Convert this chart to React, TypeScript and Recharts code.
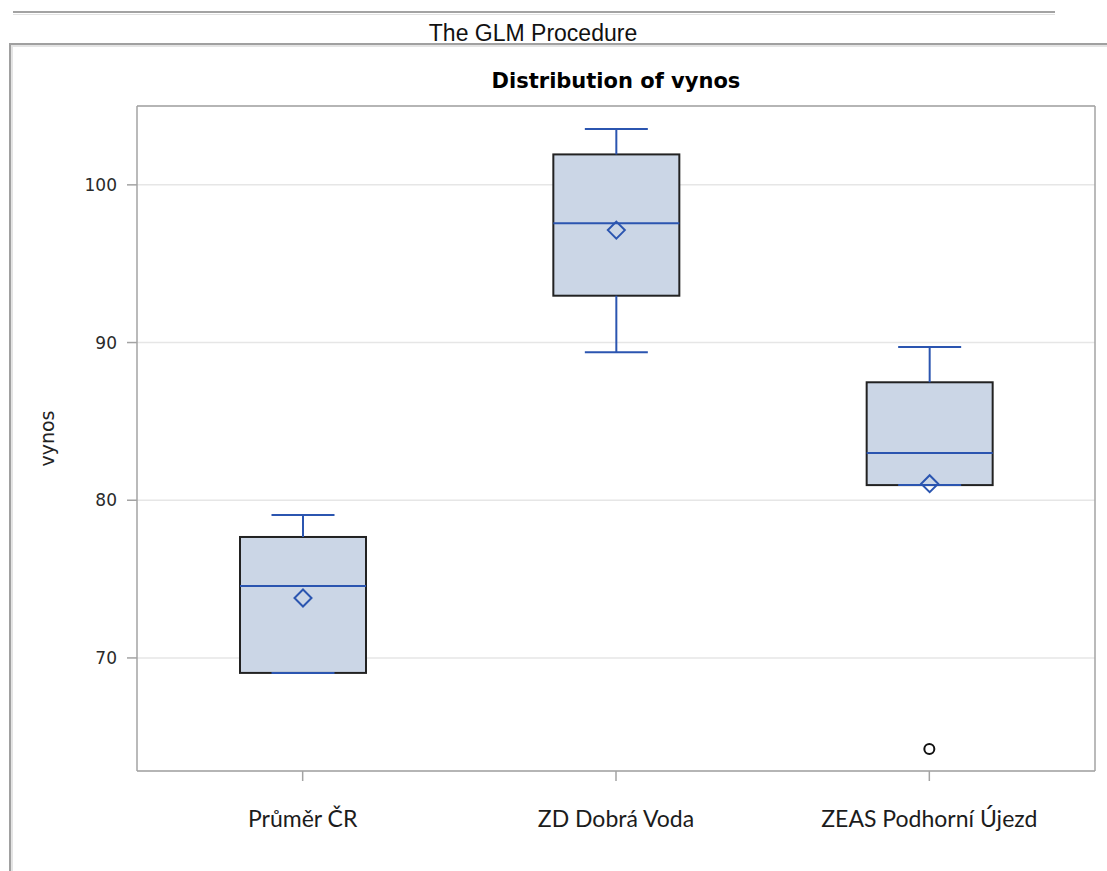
import { Bar, CartesianGrid, ComposedChart, Line, XAxis, YAxis } from 'recharts';

// box plot statistics per group
const groups = ['Průměr ČR', 'ZD Dobrá Voda', 'ZEAS Podhorní Újezd'];
const whiskerLow = [69.05, 89.38, 80.96];
const q1 = [69.05, 92.97, 80.96];
const median = [74.56, 97.56, 82.99];
const q3 = [77.67, 101.93, 87.48];
const whiskerHigh = [79.06, 103.54, 89.71];
const mean = [73.8, 97.13, 81.05];
const outliers: (number | null)[] = [null, null, 64.22];
const yTicks = [70, 80, 90, 100];
const yDomain: [number, number] = [62.83, 105.0];

const rows = groups.map((name, i) => ({
  name,
  lo: whiskerLow[i],
  q1: q1[i],
  median: median[i],
  q3: q3[i],
  hi: whiskerHigh[i],
  mean: mean[i],
  outlier: outliers[i],
}));

const BLUE = '#2b55b0';
const FRAME = '#a3a3a3';

// draws the whole box from the whisker range bar Recharts hands us
function BoxShape(props: any) {
  const { x, y, width, height, payload } = props;
  if (payload == null) return null;
  const top = Math.min(y, y + height);
  const h = Math.abs(height);
  const { lo, hi } = payload;
  const py = (v: number) => top + ((hi - v) / (hi - lo)) * h;
  const cx = x + width / 2;
  const cap = width / 4;
  const yq1 = py(payload.q1);
  const yq3 = py(payload.q3);
  const ym = py(payload.mean);
  const d = 8.5;
  return (
    <g>
      <rect x={x} y={yq3} width={width} height={yq1 - yq3} fill="#cbd6e6" stroke="#222" strokeWidth={2} />
      <line x1={cx} x2={cx} y1={py(hi)} y2={yq3} stroke={BLUE} strokeWidth={2} />
      <line x1={cx} x2={cx} y1={yq1} y2={py(lo)} stroke={BLUE} strokeWidth={2} />
      <line x1={cx - cap} x2={cx + cap} y1={py(hi)} y2={py(hi)} stroke={BLUE} strokeWidth={2} />
      <line x1={cx - cap} x2={cx + cap} y1={py(lo)} y2={py(lo)} stroke={BLUE} strokeWidth={2} />
      <line x1={x} x2={x + width} y1={py(payload.median)} y2={py(payload.median)} stroke={BLUE} strokeWidth={2} />
      <path
        d={`M${cx},${ym - d} L${cx + d},${ym} L${cx},${ym + d} L${cx - d},${ym} Z`}
        fill="none"
        stroke={BLUE}
        strokeWidth={2}
      />
    </g>
  );
}

function OutlierDot(props: any) {
  const { cx, cy, index } = props;
  if (cx == null || cy == null || Number.isNaN(cy)) return <g key={index} />;
  return <circle key={index} cx={cx} cy={cy} r={5} fill="#fff" stroke="#111" strokeWidth={2} />;
}

function YLabel(props: any) {
  const vb = props.viewBox || {};
  const cx = 47;
  const cy = vb.y != null ? vb.y + vb.height / 2 : 438.5;
  return (
    <text
      x={cx}
      y={cy}
      transform={`rotate(-90 ${cx} ${cy})`}
      textAnchor="middle"
      dominantBaseline="central"
      fontFamily="DejaVu Sans"
      fontSize={19}
      fill="#222"
    >
      vynos
    </text>
  );
}

export default function App() {
  return (
    <div
      style={{
        position: 'absolute',
        left: 0,
        top: 0,
        width: 1107,
        height: 871,
        background: '#fff',
        overflow: 'hidden',
      }}
    >
      <div
        style={{
          position: 'absolute',
          left: 13,
          top: 11,
          width: 1042,
          height: 1,
          borderTop: '2px solid #a3a3a3',
          borderBottom: '1px solid #e2e2e2',
        }}
      />
      <div
        style={{
          position: 'absolute',
          left: 0,
          top: 22,
          width: 1066,
          textAlign: 'center',
          fontFamily: '"Liberation Sans", Arial, sans-serif',
          fontSize: 23,
          lineHeight: '23px',
          color: '#111',
        }}
      >
        The GLM Procedure
      </div>
      <div
        style={{
          position: 'absolute',
          left: 9,
          top: 43,
          width: 1200,
          height: 900,
          border: '2px solid #a0a0a0',
          boxShadow: 'inset 2px 2px 0 #e4e4e4',
        }}
      />
      <div
        style={{
          position: 'absolute',
          left: 137,
          top: 71,
          width: 958,
          textAlign: 'center',
          fontFamily: '"DejaVu Sans", sans-serif',
          fontWeight: 'bold',
          fontSize: 21,
          lineHeight: '21px',
          color: '#000',
        }}
      >
        Distribution of vynos
      </div>
      <div style={{ position: 'absolute', left: 0, top: 0 }}>
        <ComposedChart
          width={1107}
          height={871}
          data={rows}
          margin={{ top: 105, right: 11, bottom: 0, left: 0 }}
        >
          <CartesianGrid vertical={false} stroke="#e6e6e6" strokeWidth={1.5} />
          <XAxis
            dataKey="name"
            height={100}
            padding={{ left: 9, right: 9 }}
            stroke={FRAME}
            strokeWidth={1.5}
            tickSize={10}
            tickMargin={30}
            tick={{ fill: '#1c1c1c', fontSize: 23, fontFamily: 'Lato' }}
            interval={0}
          />
          <XAxis
            xAxisId="top"
            dataKey="name"
            orientation="top"
            height={1}
            padding={{ left: 9, right: 9 }}
            tick={false}
            tickLine={false}
            stroke={FRAME}
            strokeWidth={1.5}
          />
          <YAxis
            width={137}
            domain={yDomain}
            ticks={yTicks}
            allowDataOverflow
            stroke={FRAME}
            strokeWidth={1.5}
            tickSize={10}
            tickMargin={10}
            tick={{ fill: '#2a2a2a', fontSize: 17, fontFamily: 'DejaVu Sans' }}
            label={{ value: 'vynos', content: YLabel }}
          />
          <YAxis
            yAxisId="r"
            orientation="right"
            width={1}
            domain={yDomain}
            allowDataOverflow
            tick={false}
            tickLine={false}
            stroke={FRAME}
            strokeWidth={1.5}
          />
          <Bar
            dataKey={(d: any) => [d.lo, d.hi]}
            barSize={126}
            shape={BoxShape}
            isAnimationActive={false}
          />
          <Line
            xAxisId="top"
            yAxisId="r"
            dataKey="outlier"
            stroke="none"
            dot={OutlierDot}
            activeDot={false}
            isAnimationActive={false}
          />
        </ComposedChart>
      </div>
    </div>
  );
}
